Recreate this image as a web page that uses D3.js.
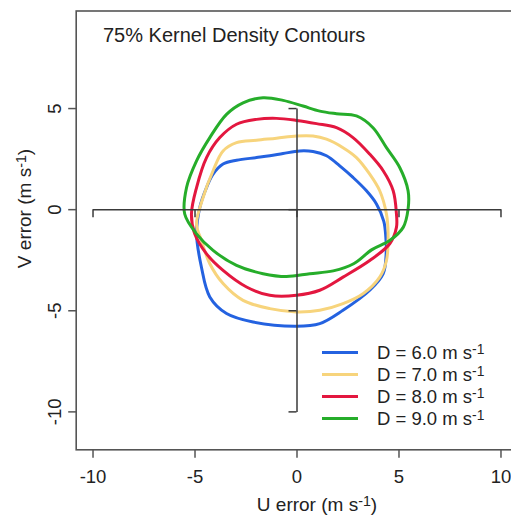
<!DOCTYPE html>
<html>
<head>
<meta charset="utf-8">
<script src="https://cdn.jsdelivr.net/npm/d3@7"></script>
<style>
  html, body { margin: 0; padding: 0; background: #fff; }
  svg { display: block; }
  text { font-family: "Liberation Sans", Arial, Helvetica, sans-serif; fill: #222; }
</style>
</head>
<body>
<svg id="chart" width="511" height="517"></svg>
<script>
// ---- Data (U error, V error in m s-1) ----
const seriesLabels = ["D = 6.0 m s", "D = 7.0 m s", "D = 8.0 m s", "D = 9.0 m s"];
const seriesColors = ["#2462e0", "#f7d47c", "#e3173f", "#26ad2a"];

const contourD6 = [
  [-4.74, 0.09], [-4.41, 1.07], [-4.09, 1.73], [-3.60, 2.23], [-2.94, 2.42],
  [-1.96, 2.55], [-1.31, 2.64], [-0.66, 2.75], [0.16, 2.88], [0.81, 2.85],
  [1.47, 2.64], [2.12, 2.14], [2.77, 1.57], [3.43, 0.91], [3.92, 0.26],
  [4.28, -0.60], [4.38, -1.40], [4.40, -2.10], [4.25, -3.19], [3.59, -4.01],
  [2.28, -5.00], [1.14, -5.66], [0.00, -5.79], [-2.13, -5.58], [-3.43, -5.16],
  [-4.25, -4.34], [-4.66, -2.87], [-4.90, -1.22]
];
const contourD7 = [
  [-4.58, 0.58], [-4.09, 1.90], [-3.60, 2.88], [-2.94, 3.29], [-1.96, 3.41],
  [-0.98, 3.51], [0.00, 3.62], [0.81, 3.62], [1.47, 3.46], [2.28, 3.04],
  [2.94, 2.55], [3.59, 1.73], [4.08, 0.91], [4.41, -0.24], [4.49, -1.22],
  [4.41, -2.54], [4.08, -3.36], [3.26, -4.18], [2.28, -4.67], [1.14, -5.00],
  [0.00, -5.08], [-1.31, -4.92], [-2.62, -4.51], [-3.60, -3.68], [-4.25, -2.70],
  [-4.66, -1.55], [-4.90, -0.73]
];
const contourD8 = [
  [-5.15, -0.24], [-4.90, 1.07], [-4.41, 2.55], [-3.76, 3.54], [-2.94, 4.20],
  [-1.96, 4.44], [-0.98, 4.49], [0.00, 4.39], [0.98, 4.23], [1.96, 4.03],
  [2.77, 3.54], [3.59, 2.72], [4.25, 1.90], [4.74, 0.91], [4.90, -0.24],
  [4.90, -0.90], [4.57, -1.71], [3.59, -2.54], [2.28, -3.36], [1.14, -4.01],
  [0.00, -4.26], [-1.31, -4.26], [-2.45, -3.85], [-3.60, -3.03], [-4.41, -2.21],
  [-4.99, -1.22]
];
const contourD9 = [
  [-5.48, -0.24], [-5.39, 1.07], [-4.90, 2.39], [-4.25, 3.54], [-3.43, 4.69],
  [-2.62, 5.26], [-1.64, 5.51], [-0.66, 5.38], [0.32, 5.10], [1.14, 4.85],
  [1.96, 4.72], [2.94, 4.61], [3.75, 4.03], [4.41, 3.04], [5.06, 2.06],
  [5.47, 0.91], [5.47, 0.00], [5.23, -0.90], [4.57, -1.55], [3.70, -2.00],
  [2.80, -2.70], [1.80, -3.05], [0.65, -3.19], [-0.49, -3.33], [-1.64, -3.19],
  [-2.94, -2.78], [-4.09, -2.04], [-4.90, -1.22]
];
const contours = [contourD6, contourD7, contourD8, contourD9];

const xTicks = [-10, -5, 0, 5, 10];
const yTicks = [-10, -5, 0, 5];
const titleText = "75% Kernel Density Contours";

// ---- Layout ----
const svg = d3.select("#chart");
const x = d3.scaleLinear().domain([-10.8, 10.8]).range([76.2, 516.8]);
const y = d3.scaleLinear().domain([-11.9, 9.8]).range([449.8, 11.0]);
const fmt = d => String(d);

// contours
const line = d3.line()
  .x(d => x(d[0])).y(d => y(d[1]))
  .curve(d3.curveCatmullRomClosed.alpha(0.5));

const gC = svg.append("g");
contours.forEach((c, i) => {
  gC.append("path")
    .attr("d", line(c))
    .attr("fill", "none")
    .attr("stroke", seriesColors[i])
    .attr("stroke-width", 3)
    .attr("stroke-linejoin", "round");
});

// inner cross axes
const xInner = d3.scaleLinear().domain([-10, 10]).range([x(-10), x(10)]);
const yInner = d3.scaleLinear().domain([-10, 5]).range([y(-10), y(5)]);
const crossH = svg.append("g")
  .attr("transform", `translate(0,${y(0)})`)
  .call(d3.axisBottom(xInner).tickValues(xTicks).tickSize(8).tickSizeOuter(0).tickFormat(""));
const crossV = svg.append("g")
  .attr("transform", `translate(${x(0)},0)`)
  .call(d3.axisLeft(yInner).tickValues(yTicks).tickSize(8).tickSizeOuter(0).tickFormat(""));
[crossH, crossV].forEach(g => {
  g.selectAll("path, line").attr("stroke", "#3a3a3a").attr("stroke-width", 1.5);
});

// box
svg.append("rect")
  .attr("x", x(-10.8)).attr("y", y(9.8))
  .attr("width", x(10.8) - x(-10.8)).attr("height", y(-11.9) - y(9.8))
  .attr("fill", "none").attr("stroke", "#555").attr("stroke-width", 1.6);

// bottom axis
const gx = svg.append("g")
  .attr("transform", `translate(0,${y(-11.9)})`)
  .call(d3.axisBottom(x).tickValues(xTicks).tickSize(8).tickPadding(12).tickFormat(fmt));
gx.select(".domain").remove();
gx.selectAll("line").attr("stroke", "#555").attr("stroke-width", 1.5);
gx.selectAll("text").attr("font-size", 18.5).attr("fill", "#222")
  .attr("font-family", "Liberation Sans, Arial, sans-serif");

// left axis
const gy = svg.append("g")
  .attr("transform", `translate(${x(-10.8)},0)`)
  .call(d3.axisLeft(y).tickValues(yTicks).tickSize(8).tickFormat(fmt));
gy.select(".domain").remove();
gy.selectAll("line").attr("stroke", "#555").attr("stroke-width", 1.5);
gy.selectAll("text")
  .attr("font-size", 18.5).attr("fill", "#222")
  .attr("font-family", "Liberation Sans, Arial, sans-serif")
  .attr("x", null).attr("dy", null)
  .attr("text-anchor", "middle")
  .attr("transform", "translate(-15,0) rotate(-90)")
  .attr("y", 0);

// title
svg.append("text")
  .attr("x", 103).attr("y", 42)
  .attr("font-size", 20)
  .text(titleText);

// axis titles
function unitLabel(sel, main) {
  sel.append("tspan").text(main + "(m s");
  sel.append("tspan").attr("font-size", "0.75em").attr("dy", -5).text("-1");
  sel.append("tspan").attr("dy", 5).text(")");
}
const xl = svg.append("text")
  .attr("x", 317).attr("y", 511)
  .attr("text-anchor", "middle").attr("font-size", 19);
unitLabel(xl, "U error ");

const yl = svg.append("text")
  .attr("transform", "translate(31,208.5) rotate(-90)")
  .attr("text-anchor", "middle").attr("font-size", 19);
unitLabel(yl, "V error ");

// legend
const legY0 = 352.5, legDY = 22;
const gL = svg.append("g");
seriesLabels.forEach((lab, i) => {
  const yy = legY0 + i * legDY;
  gL.append("line")
    .attr("x1", 322).attr("x2", 358).attr("y1", yy).attr("y2", yy)
    .attr("stroke", seriesColors[i]).attr("stroke-width", 3);
  const t = gL.append("text")
    .attr("x", 377).attr("y", yy + 6.6)
    .attr("font-size", 18.5);
  t.append("tspan").text(lab);
  t.append("tspan").attr("font-size", "0.75em").attr("dy", -5).text("-1");
});
</script>
</body>
</html>
